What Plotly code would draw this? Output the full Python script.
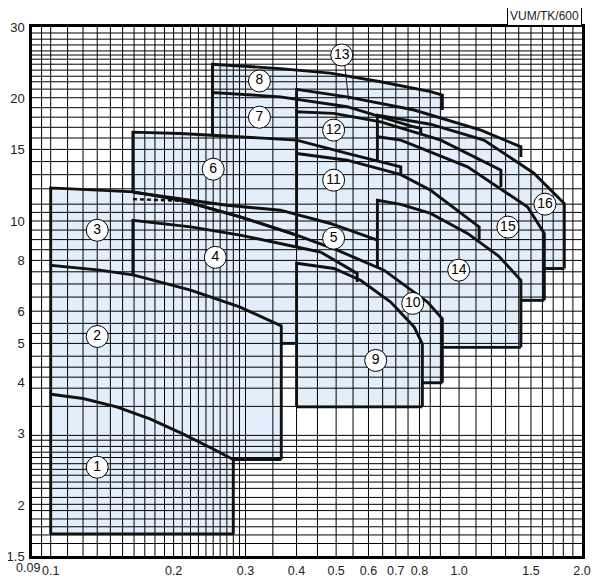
import plotly.graph_objects as go

# ---------------- axes / ticks ----------------
X_TICKS = [0.1, 0.2, 0.3, 0.4, 0.5, 0.6, 0.7, 0.8, 1.0, 1.5, 2.0]
X_TICK_TEXT = ["0.1", "0.2", "0.3", "0.4", "0.5", "0.6", "0.7", "0.8", "1.0", "1.5", "2.0"]
X_FIRST_LABEL = "0.09"
Y_TICKS = [1.5, 2, 3, 4, 5, 6, 8, 10, 15, 20, 30]
Y_TICK_TEXT = ["1.5", "2", "3", "4", "5", "6", "8", "10", "15", "20", "30"]

X_GRID = [0.095, 0.1, 0.11, 0.12, 0.13, 0.14, 0.15, 0.16, 0.17, 0.18, 0.19, 0.2,
          0.21, 0.22, 0.23, 0.24, 0.25, 0.26, 0.27, 0.28, 0.29, 0.3, 0.35, 0.4,
          0.45, 0.5, 0.55, 0.6, 0.65, 0.7, 0.75, 0.8, 0.85, 0.9, 1.0, 1.1, 1.2,
          1.3, 1.4, 1.5, 1.6, 1.7, 1.8, 1.9]
Y_GRID = [1.61, 1.69, 1.77, 1.85, 1.94, 2.01, 2.09, 2.2, 2.28, 2.37, 2.45, 2.53,
          2.62, 2.7, 2.79, 2.89, 2.97, 3.5, 3.88, 4.13, 4.37, 4.65, 5.0, 5.29,
          5.6, 6.0, 6.5, 7.0, 7.5, 8.0, 8.5, 9.0, 9.5, 10.0, 10.5, 11, 12, 13,
          14, 15, 16, 17, 18, 19, 20.1, 21.1, 22, 22.7, 23.5, 24.3, 25, 25.6,
          26.2, 27.1, 28, 29]

# ---------------- tile top curves (Q, H) ----------------
Q1 = [0.1, 0.12, 0.145, 0.175, 0.21, 0.25, 0.28]
H1 = [3.75, 3.66, 3.49, 3.26, 3.0, 2.75, 2.59]
Q2 = [0.1, 0.132, 0.16, 0.22, 0.29, 0.367]
H2 = [7.78, 7.57, 7.36, 6.76, 6.15, 5.52]
Q3 = [0.1, 0.16, 0.211, 0.291, 0.40]
H3 = [12.06, 11.79, 11.21, 10.24, 9.23]
Q4 = [0.159, 0.22, 0.291, 0.40, 0.458, 0.563]
H4 = [10.04, 9.67, 9.23, 8.63, 8.39, 7.43]
Q5 = [0.159, 0.27, 0.365, 0.484, 0.631]
H5 = [11.77, 10.93, 10.63, 9.86, 8.97]
Q6 = [0.159, 0.208, 0.249, 0.40, 0.532, 0.72]
H6 = [16.54, 16.42, 16.26, 15.81, 14.66, 13.59]
Q7 = [0.249, 0.365, 0.532, 0.774, 0.806]
H7 = [20.7, 20.2, 19.1, 17.05, 16.9]
Q8 = [0.249, 0.365, 0.484, 0.643, 0.852, 0.91]
H8 = [24.3, 23.7, 23.1, 22.0, 20.8, 20.4]
Q9 = [0.40, 0.494, 0.574, 0.68, 0.776, 0.813]
H9 = [7.87, 7.64, 7.15, 6.32, 5.49, 4.99]
Q10 = [0.211, 0.291, 0.40, 0.50, 0.655, 0.747, 0.837, 0.91]
H10 = [11.21, 10.24, 9.23, 8.5, 7.57, 6.88, 6.32, 5.75]
Q10_DASH = [0.159, 0.211]
H10_DASH = [11.32, 11.21]
Q11 = [0.40, 0.532, 0.72, 0.852, 1.12]
H11 = [14.66, 14.11, 13.0, 11.9, 9.67]
Q12 = [0.40, 0.493, 0.643, 0.902, 1.266]
H12 = [18.56, 18.4, 17.53, 15.81, 13.34]
Q13 = [0.40, 0.532, 0.776, 1.131, 1.417]
H13 = [21.08, 20.2, 18.75, 16.73, 15.22]
Q14 = [0.631, 0.72, 0.852, 1.049, 1.25, 1.417]
H14 = [11.25, 10.99, 10.44, 9.32, 8.2, 7.15]
Q15 = [0.631, 0.72, 1.049, 1.472, 1.617]
H15 = [16.11, 15.81, 13.59, 10.83, 9.32]
Q16 = [0.631, 0.85, 1.15, 1.525, 1.81]
H16 = [18.21, 17.3, 15.81, 13.11, 11.04]

TOP_Q = [Q1, Q2, Q3, Q4, Q5, Q6, Q7, Q8, Q9, Q10, Q11, Q12, Q13, Q14, Q15, Q16]
TOP_H = [H1, H2, H3, H4, H5, H6, H7, H8, H9, H10, H11, H12, H13, H14, H15, H16]
H_MIN = [1.7, 2.59, 5.0, 5.0, 5.0, 10, 14, 17, 3.49, 4.0, 9, 11, 12, 4.89, 6.38, 7.64]
FILL_START = [0, 0, 0, 0, 0, 0, 0, 0, 0, 2, 0, 0, 0, 0, 0, 0]
# visible outline parts
LEFT_TO = [1.7, 3.75, 7.78, 7.36, None, 11.79, 16.26, 20.7, 3.49, None,
           8.63, 14.66, 18.56, 7.7, 14.11, 16.11]
RIGHT_TO = [1.7, 2.59, 8.63, 7.08, None, 12.97, 16.26, 18.75, 3.49, 4.0,
            8.97, 12.13, 14.36, 4.89, 6.38, 7.64]
BOTTOM_FROM = [0.1, 0.28, None, 0.367, None, None, None, None, 0.40, 0.813,
               None, None, None, 0.91, 1.417, 1.617]
BOTTOM_TO = [0.28, 0.367, None, 0.40, None, None, None, None, 0.813, 0.91,
             None, None, None, 1.417, 1.617, 1.81]

LABEL_Q = [0.13, 0.13, 0.13, 0.253, 0.493, 0.25, 0.3245, 0.3245, 0.625, 0.77,
           0.493, 0.493, 0.516, 0.998, 1.317, 1.623]
LABEL_H = [2.48, 5.2, 9.49, 8.14, 9.07, 13.41, 18.0, 22.1, 4.54, 6.27,
           12.6, 16.73, 25.6, 7.57, 9.66, 11.0]
LABEL_TEXT = [str(i) for i in range(1, 17)]
LEADER_Q = [0.5245, 0.5366]
LEADER_H = [24.3, 19.84]

FILL = "#e2eefa"
LINE = "#111111"
LW = 2.9

fig = go.Figure()

# fills
for k in range(16):
    q, h = TOP_Q[k], TOP_H[k]
    s = FILL_START[k]
    px = [q[s]] + q[s:] + [q[-1], q[s]]
    py = [H_MIN[k]] + h[s:] + [H_MIN[k], H_MIN[k]]
    fig.add_trace(go.Scatter(x=px, y=py, mode="lines", fill="toself",
                             fillcolor=FILL, line=dict(width=0, color=FILL),
                             hoverinfo="skip", showlegend=False))

# grid
gx, gy = [], []
for v in X_GRID:
    gx += [v, v, None]
    gy += [1.5, 30, None]
fig.add_trace(go.Scatter(x=gx, y=gy, mode="lines", line=dict(color="black", width=1),
                         hoverinfo="skip", showlegend=False))
gx, gy = [], []
for v in Y_GRID:
    gx += [0.09, 2.0, None]
    gy += [v, v, None]
fig.add_trace(go.Scatter(x=gx, y=gy, mode="lines", line=dict(color="black", width=1),
                         hoverinfo="skip", showlegend=False))

# outlines
for k in range(16):
    q, h = TOP_Q[k], TOP_H[k]
    ox, oy = [], []
    if LEFT_TO[k] is not None:
        ox += [q[0]]
        oy += [LEFT_TO[k]]
    ox += q
    oy += h
    if RIGHT_TO[k] is not None:
        ox += [q[-1]]
        oy += [RIGHT_TO[k]]
    fig.add_trace(go.Scatter(x=ox, y=oy, mode="lines",
                             line=dict(color=LINE, width=LW),
                             hoverinfo="skip", showlegend=False))
    if BOTTOM_FROM[k] is not None:
        fig.add_trace(go.Scatter(x=[BOTTOM_FROM[k], BOTTOM_TO[k]], y=[H_MIN[k], H_MIN[k]],
                                 mode="lines", line=dict(color=LINE, width=LW),
                                 hoverinfo="skip", showlegend=False))

fig.add_trace(go.Scatter(x=Q10_DASH, y=H10_DASH, mode="lines",
                         line=dict(color=LINE, width=2.4, dash="4px,3px"),
                         hoverinfo="skip", showlegend=False))
fig.add_trace(go.Scatter(x=LEADER_Q, y=LEADER_H, mode="lines",
                         line=dict(color=LINE, width=1),
                         hoverinfo="skip", showlegend=False))

fig.add_trace(go.Scatter(x=LABEL_Q, y=LABEL_H, mode="markers+text", text=LABEL_TEXT,
                         textposition="middle center",
                         textfont=dict(family="Liberation Sans", size=14, color="black"),
                         marker=dict(size=22, color="white", line=dict(color="black", width=1)),
                         hoverinfo="skip", showlegend=False))

# the page body keeps the browser's 8px margin, so the figure is sized to fit inside it
fig.update_layout(
    width=597, height=575,
    margin=dict(l=24, r=23, t=19, b=27, autoexpand=False),
    plot_bgcolor="white", paper_bgcolor="white",
    font=dict(family="Liberation Sans", size=13, color="#222"),
    showlegend=False,
)
fig.update_xaxes(type="log", range=[-1.04576, 0.30103], tickvals=X_TICKS, ticktext=X_TICK_TEXT,
                 tickangle=0, showgrid=False, zeroline=False, showline=True, mirror=True,
                 linecolor="black", linewidth=2.5, ticks="", ticklabelstandoff=1,
                 automargin=False, tickfont=dict(size=12.5))
fig.update_yaxes(type="log", range=[0.176091, 1.477121], tickvals=Y_TICKS, ticktext=Y_TICK_TEXT,
                 showgrid=False, zeroline=False, showline=True, mirror=True,
                 linecolor="black", linewidth=2.5, ticks="", ticklabelstandoff=2,
                 automargin=False, tickfont=dict(size=13))
fig.add_annotation(text=X_FIRST_LABEL, xref="paper", yref="paper", x=0.0, y=0.0,
                   xanchor="right", yanchor="top", showarrow=False, xshift=10, yshift=-3,
                   font=dict(size=12.5, color="#222"))
fig.add_annotation(text="VUM/TK/600", xref="paper", yref="paper", x=1.0, y=1.0,
                   xanchor="right", yanchor="bottom", showarrow=False,
                   font=dict(size=12, color="#222"), bordercolor="black", borderwidth=1,
                   borderpad=2, bgcolor="white", yshift=1)

fig.write_html("out.html")
